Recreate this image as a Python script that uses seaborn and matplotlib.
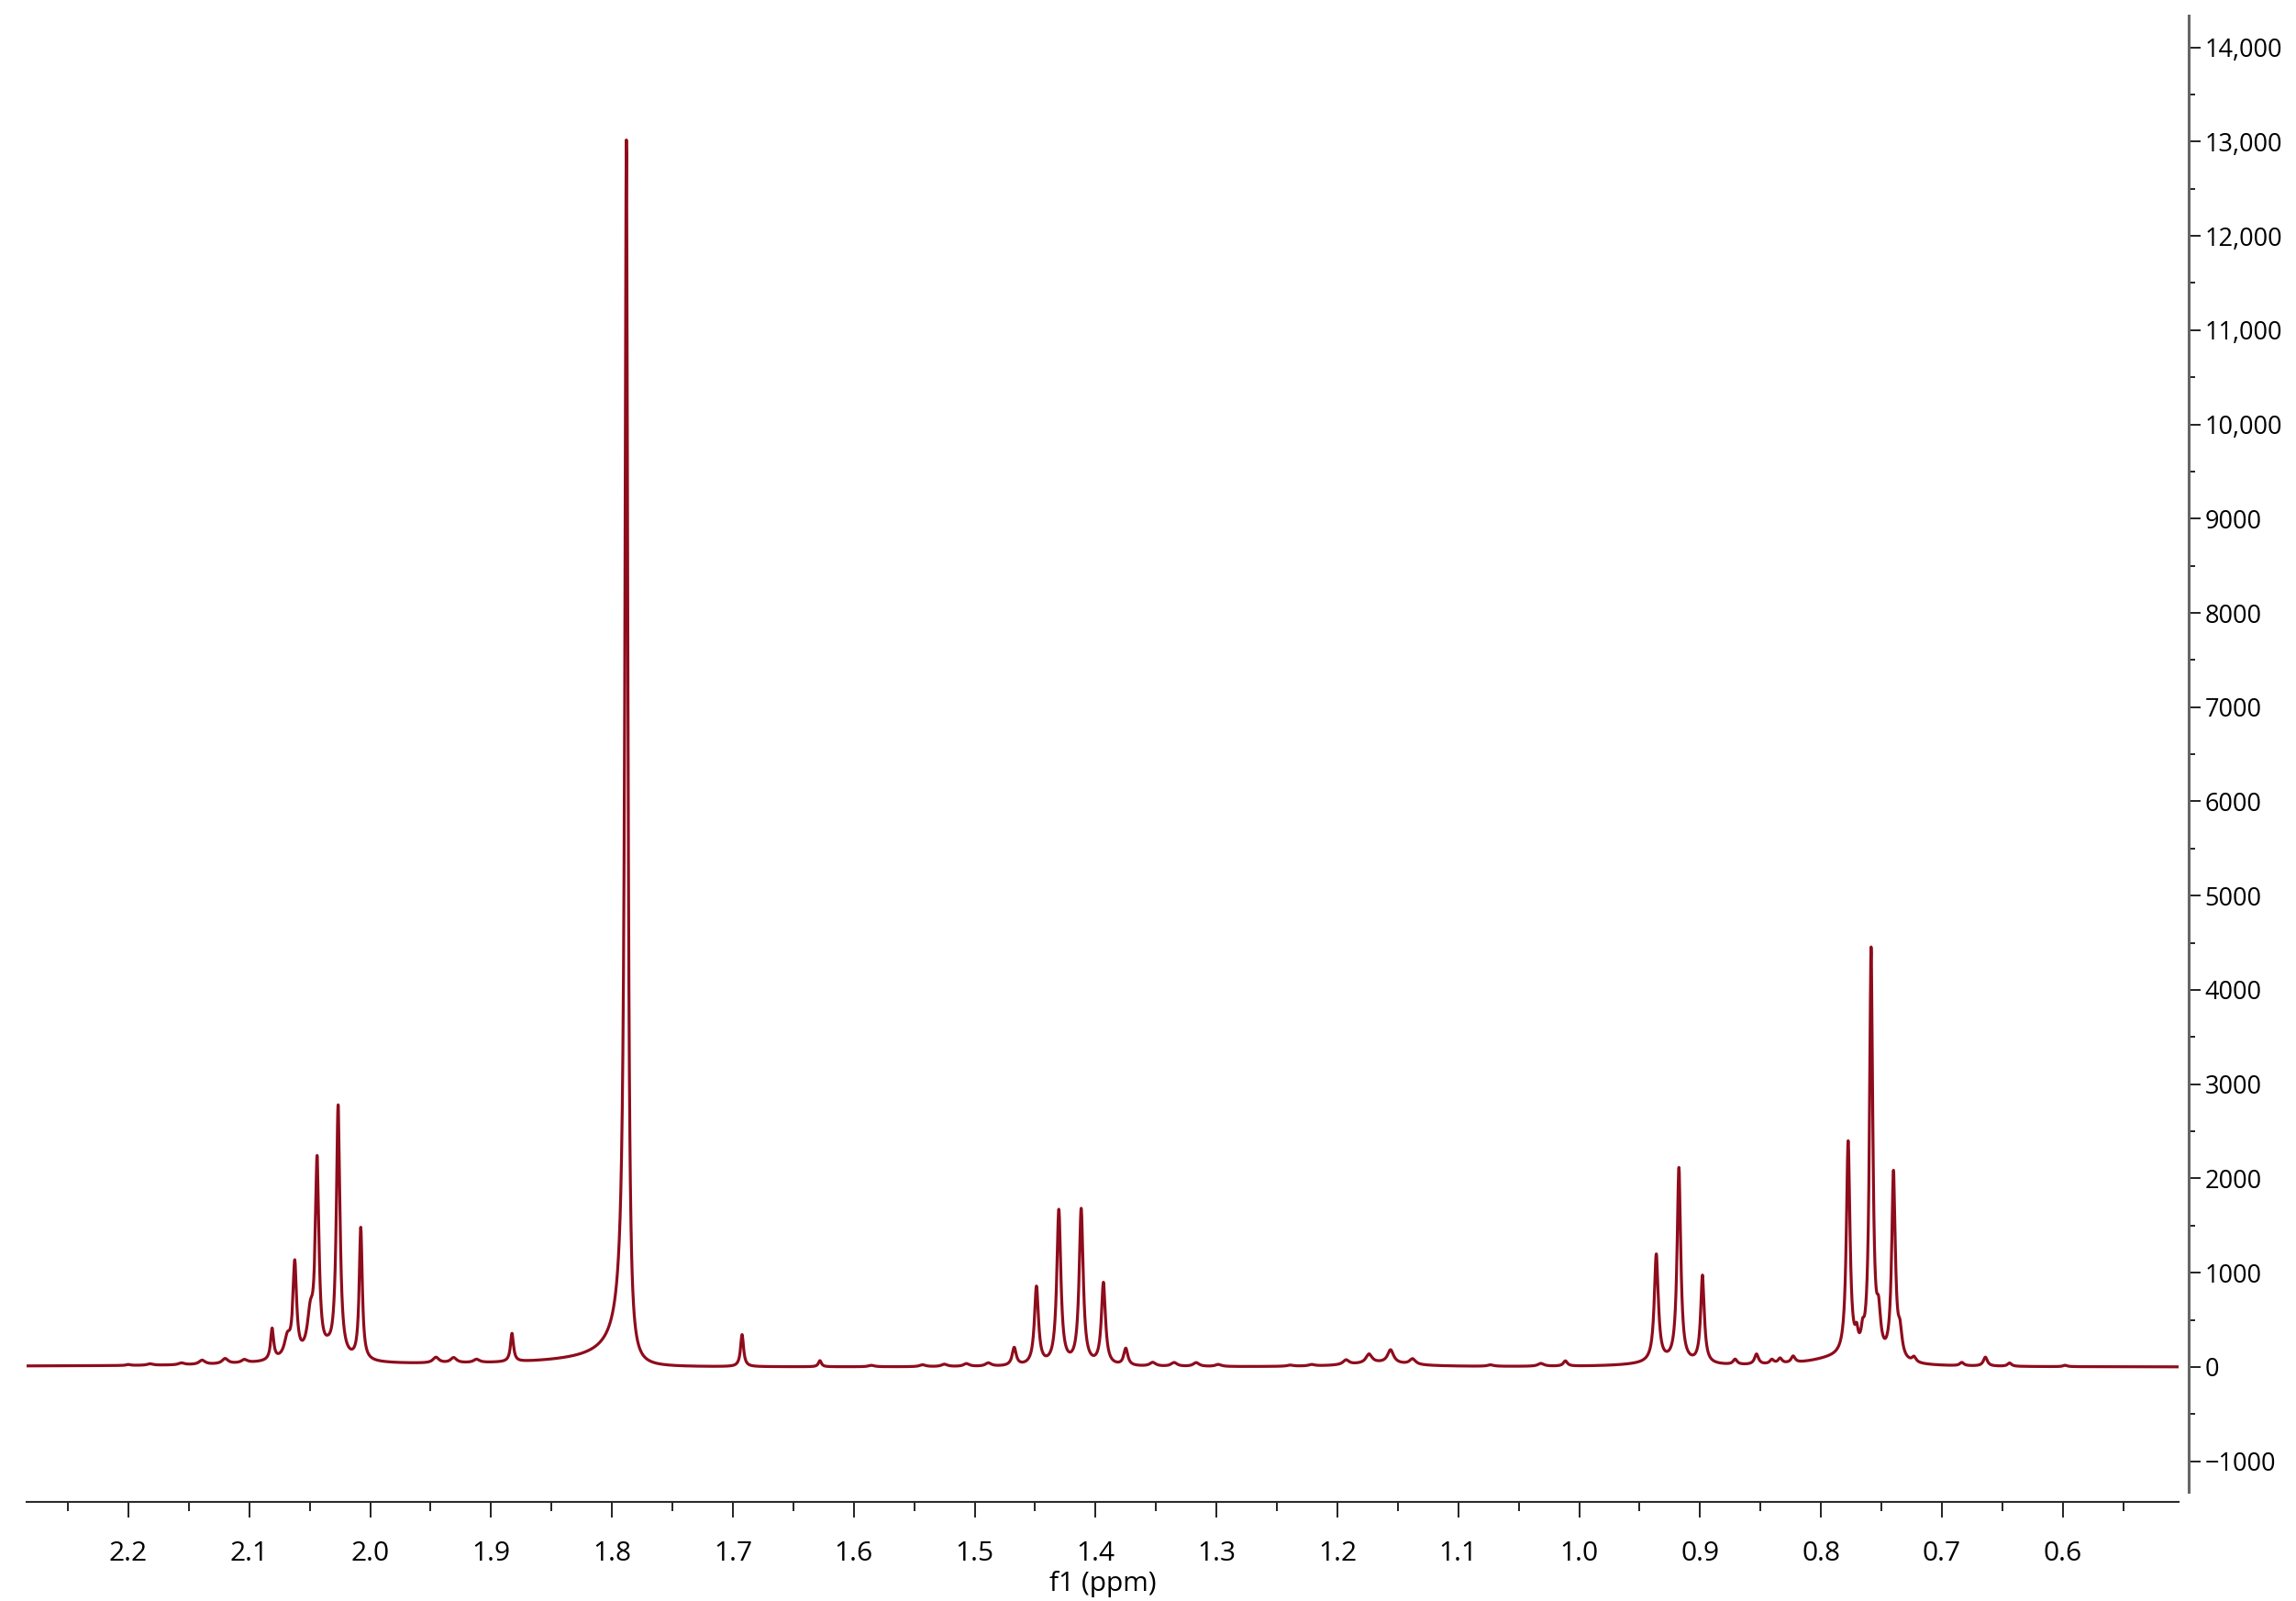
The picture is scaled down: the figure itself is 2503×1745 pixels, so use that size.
import numpy as np
import pandas as pd
import matplotlib
matplotlib.use("Agg")
import matplotlib.pyplot as plt
import seaborn as sns
from matplotlib.ticker import MultipleLocator, FuncFormatter, FormatStrFormatter

# ---------------- data (peak list) ----------------
# chemical shift (ppm) of each resolved line
peak_ppm = [2.200, 2.182, 2.156, 2.139, 2.120, 2.104,
            2.0811, 2.0685, 2.0624, 2.0495, 2.0439, 2.0350, 2.0265, 2.0078,
            1.9456, 1.931, 1.912, 1.8827,
            1.788,
            1.6924, 1.628, 1.5854, 1.543, 1.525, 1.5068, 1.4887,
            1.4673, 1.4489, 1.4304, 1.4119, 1.3935, 1.375,
            1.3527, 1.335, 1.3168, 1.2984, 1.239, 1.2212,
            1.1928, 1.1738, 1.156, 1.1378, 1.0733, 1.0316, 1.0114,
            0.9362, 0.9175, 0.898, 0.871, 0.8533, 0.8406, 0.8338, 0.823,
            0.7775, 0.7705, 0.7655, 0.7585, 0.7523, 0.740, 0.7346, 0.723,
            0.6835, 0.664, 0.644, 0.598]
# line heights (intensity units)
peak_height = [10, 15, 20, 45, 55, 35,
               330, 200, 980, 400, 2030, 50, 2670, 1400,
               60, 55, 35, 300,
               12940,
               340, 65, 15, 20, 25, 30, 35,
               190, 830, 1640, 1650, 870, 180,
               40, 40, 40, 22, 12, 15,
               50, 95, 140, 60, 15, 30, 55,
               1140, 2060, 930, 55, 110, 45, 55, 70,
               2270, 160, 160, 4320, 380, 1980, 250, 55,
               35, 95, 35, 15]
# half widths at half maximum (ppm)
peak_hwhm = [0.002, 0.003, 0.003, 0.003, 0.003, 0.003,
             0.0015, 0.003, 0.0018, 0.003, 0.0018, 0.004, 0.0018, 0.0015,
             0.003, 0.003, 0.003, 0.0015,
             0.00135,
             0.0015, 0.0015, 0.003, 0.003, 0.003, 0.003, 0.003,
             0.002, 0.002, 0.002, 0.002, 0.002, 0.002,
             0.003, 0.003, 0.003, 0.003, 0.003, 0.003,
             0.003, 0.003, 0.003, 0.003, 0.003, 0.003, 0.002,
             0.002, 0.0018, 0.0018, 0.002, 0.002, 0.002, 0.002, 0.002,
             0.0018, 0.0015, 0.0015, 0.0016, 0.002, 0.0018, 0.002, 0.002,
             0.002, 0.002, 0.002, 0.002]

# broad humps under the multiplets
hump_ppm = [2.05, 1.165, 0.93, 0.785]
hump_height = [55, 40, 35, 85]
hump_hwhm = [0.04, 0.03, 0.03, 0.03]

# low-field tail of the main singlet at 1.788 ppm
tail_ppm = 1.788
tail_strength = 4.7
tail_width = 0.0018

# axis ranges
x_left, x_right = 2.2842, 0.5042
y_bottom, y_top = -1431, 14336
spine_low, spine_high = -1324, 14336

# ---------------- build spectrum ----------------
ppm = np.union1d(np.arange(x_right, x_left, 0.0001), np.array(peak_ppm))
intensity = np.zeros_like(ppm)
for c, h, g in zip(peak_ppm + hump_ppm, peak_height + hump_height, peak_hwhm + hump_hwhm):
    intensity += h * g ** 2 / (g ** 2 + (ppm - c) ** 2)
d = ppm - tail_ppm
intensity += np.where(d > 0, tail_strength * d / (d ** 2 + tail_width ** 2), 0.0)

df = pd.DataFrame({"ppm": ppm, "intensity": intensity})

# ---------------- plot ----------------
sns.set_theme(style="white")
plt.rcParams["font.family"] = ["Open Sans", "DejaVu Sans"]

W, H = 2503, 1745
fig = plt.figure(figsize=(W / 100, H / 100), dpi=100)
ax = fig.add_axes([29 / W, 108 / H, (2375 - 29) / W, (H - 108 - 17) / H])

sns.lineplot(data=df, x="ppm", y="intensity", ax=ax, color="#8e0c1c",
             linewidth=2.3, estimator=None, sort=True)

ax.set_xlim(x_left, x_right)
ax.set_ylim(y_bottom, y_top)

for s in ["left", "top"]:
    ax.spines[s].set_visible(False)
ax.spines["bottom"].set_color("#2b2b2b")
ax.spines["bottom"].set_linewidth(1.5)
ax.spines["right"].set_visible(True)
ax.spines["right"].set_color("#666666")
ax.spines["right"].set_linewidth(2.2)
ax.spines["right"].set_position(("outward", 8))
ax.spines["right"].set_bounds(spine_low, spine_high)

ax.yaxis.tick_right()
ax.yaxis.set_major_locator(MultipleLocator(1000))
ax.yaxis.set_minor_locator(MultipleLocator(500))


def yfmt(v, pos):
    v = int(round(v))
    s = f"{v:,}" if abs(v) >= 10000 else str(v)
    return s.replace("-", "\u2212")


ax.yaxis.set_major_formatter(FuncFormatter(yfmt))
ax.xaxis.set_major_locator(MultipleLocator(0.1))
ax.xaxis.set_minor_locator(MultipleLocator(0.05))
ax.xaxis.set_major_formatter(FormatStrFormatter("%.1f"))

ax.tick_params(axis="y", which="major", right=True, left=False, length=9, width=1.4,
               pad=3.6, labelsize=19.5, colors="#222222", direction="out")
ax.tick_params(axis="y", which="minor", right=True, left=False, length=5, width=1.4,
               colors="#222222", direction="out")
ax.tick_params(axis="x", which="major", bottom=True, length=11.9, width=1.4,
               pad=18, labelsize=21.5, colors="#222222", direction="out")
ax.tick_params(axis="x", which="minor", bottom=True, length=6.9, width=1.4,
               colors="#222222", direction="out")
ax.tick_params(axis="both", labelcolor="black")

ax.set_xlabel("f1 (ppm)", fontsize=21.5, labelpad=3, color="black")
ax.set_ylabel("")
ax.grid(False)

fig.savefig("out.png", dpi=100)
